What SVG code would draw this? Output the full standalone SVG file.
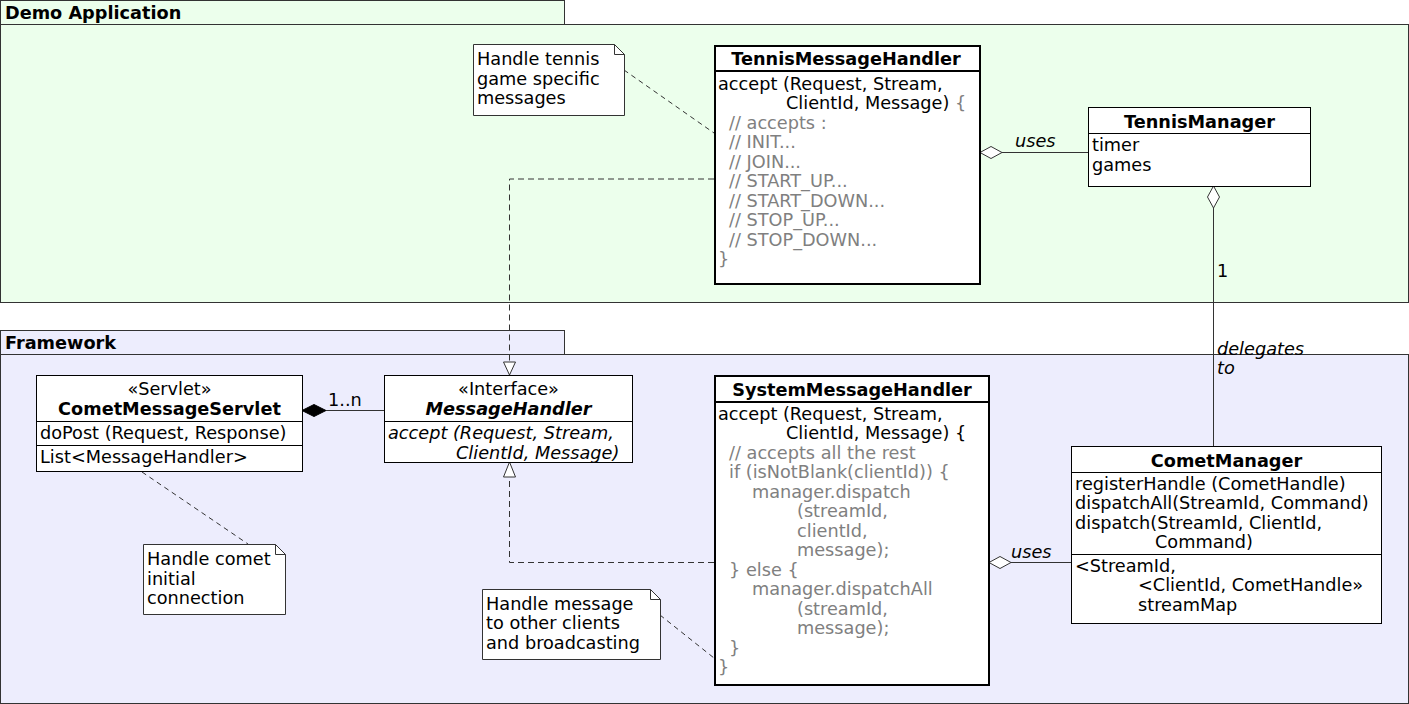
<svg xmlns="http://www.w3.org/2000/svg" width="1409" height="704" viewBox="0 0 1409 704">
<style>
text{font-family:"DejaVu Sans",sans-serif;font-size:17.7px;fill:#000}
.b{font-weight:bold}
.i{font-style:italic}
.g{fill:#808080}
.c{text-anchor:middle}
.box{fill:#fff;stroke:#000;stroke-width:1}
.thick{fill:#fff;stroke:#000;stroke-width:2}
.sep{stroke:#000;stroke-width:1}
.sep2{stroke:#000;stroke-width:2}
.pkgA{fill:#ecffec;stroke:#333;stroke-width:1}
.pkgB{fill:#ededfd;stroke:#333;stroke-width:1}
.note{fill:#fff;stroke:#333;stroke-width:1}
.ln{fill:none;stroke:#333;stroke-width:1}
.dash{fill:none;stroke:#333;stroke-width:1;stroke-dasharray:6,4}
.ndash{fill:none;stroke:#333;stroke-width:1;stroke-dasharray:5,4}
</style>
<g id="pkg-demo">
<rect class="pkgA" x="0.5" y="0.5" width="564" height="24"/>
<rect class="pkgA" x="0.5" y="24.5" width="1408" height="278"/>
<text class="b" x="5" y="19">Demo Application</text>
</g>
<g id="pkg-framework">
<rect class="pkgB" x="0.5" y="330.5" width="564" height="24"/>
<rect class="pkgB" x="0.5" y="354.5" width="1408" height="349"/>
<text class="b" x="5" y="349">Framework</text>
</g>
<g id="connectors">
<path class="ndash" d="M624,70 L714,133"/>
<path class="dash" d="M714,179 H509.5 V362"/>
<polygon points="509.5,375 503.5,362 515.5,362" fill="#fff" stroke="#333"/>
<line class="ln" x1="1002" y1="152.5" x2="1088" y2="152.5"/>
<polygon points="980,152.5 991,146.5 1002,152.5 991,158.5" fill="#fff" stroke="#333"/>
<text class="i" x="1015" y="147">uses</text>
<line class="ln" x1="1213.5" y1="208" x2="1213.5" y2="446"/>
<polygon points="1213.5,186 1219.5,197 1213.5,208 1207.5,197" fill="#fff" stroke="#333"/>
<text x="1217" y="277">1</text>
<text class="i" x="1217" y="355">delegates</text>
<text class="i" x="1217" y="374">to</text>
<line class="ln" x1="326" y1="410.5" x2="384" y2="410.5"/>
<polygon points="302,410.5 314,404.5 326,410.5 314,416.5" fill="#000" stroke="#000"/>
<text x="328" y="406">1..n</text>
<path class="dash" d="M714,562.5 H509.5 V477"/>
<polygon points="509.5,462 503.5,477 515.5,477" fill="#fff" stroke="#333"/>
<path class="ndash" d="M142,472 L248,544"/>
<line class="ln" x1="1011" y1="562.5" x2="1071" y2="562.5"/>
<polygon points="989,562.5 1000,556.5 1011,562.5 1000,568.5" fill="#fff" stroke="#333"/>
<text class="i" x="1011" y="558">uses</text>
<path class="ndash" d="M660,615 L714,658"/>
</g>
<g id="note-tennis">
<path class="note" d="M473.5,44.5 H614.5 L624.5,54.5 V115.5 H473.5 Z"/>
<path class="ln" d="M614.5,44.5 V54.5 H624.5"/>
<text x="477" y="65">Handle tennis</text>
<text x="477" y="85">game specific</text>
<text x="477" y="104">messages</text>
</g>
<g id="TennisMessageHandler">
<rect class="thick" x="715" y="46" width="265" height="238"/>
<line class="sep2" x1="715" y1="71" x2="980" y2="71"/>
<text class="b c" x="846" y="65">TennisMessageHandler</text>
<text x="718" y="90">accept (Request, Stream,</text>
<text x="786" y="109">ClientId, Message) <tspan class="g">{</tspan></text>
<text class="g" x="729" y="129">// accepts :</text>
<text class="g" x="729" y="148">// INIT...</text>
<text class="g" x="729" y="168">// JOIN...</text>
<text class="g" x="729" y="187">// START_UP...</text>
<text class="g" x="729" y="207">// START_DOWN...</text>
<text class="g" x="729" y="226">// STOP_UP...</text>
<text class="g" x="729" y="246">// STOP_DOWN...</text>
<text class="g" x="718" y="265">}</text>
</g>
<g id="TennisManager">
<rect class="box" x="1088.5" y="107.5" width="222" height="79"/>
<line class="sep" x1="1088.5" y1="133.5" x2="1310.5" y2="133.5"/>
<text class="b c" x="1199.5" y="128">TennisManager</text>
<text x="1092" y="151">timer</text>
<text x="1092" y="171">games</text>
</g>
<g id="CometMessageServlet">
<rect class="box" x="36.5" y="375.5" width="266" height="96"/>
<line class="sep" x1="36.5" y1="421.5" x2="302.5" y2="421.5"/>
<line class="sep" x1="36.5" y1="445.5" x2="302.5" y2="445.5"/>
<text class="c" x="169.5" y="395">«Servlet»</text>
<text class="b c" x="169.5" y="415">CometMessageServlet</text>
<text x="40" y="439">doPost (Request, Response)</text>
<text x="40" y="463">List&lt;MessageHandler&gt;</text>
</g>
<g id="MessageHandler">
<rect class="box" x="384.5" y="375.5" width="248" height="87"/>
<line class="sep" x1="384.5" y1="421.5" x2="632.5" y2="421.5"/>
<text class="c" x="508.5" y="395">«Interface»</text>
<text class="b i c" x="508.5" y="415">MessageHandler</text>
<text class="i" x="388" y="439">accept (Request, Stream,</text>
<text class="i" x="456" y="459">ClientId, Message)</text>
</g>
<g id="note-comet">
<path class="note" d="M143.5,544.5 H275.5 L285.5,554.5 V614.5 H143.5 Z"/>
<path class="ln" d="M275.5,544.5 V554.5 H285.5"/>
<text x="147" y="565">Handle comet</text>
<text x="147" y="585">initial</text>
<text x="147" y="604">connection</text>
</g>
<g id="SystemMessageHandler">
<rect class="thick" x="715" y="376" width="274" height="309"/>
<line class="sep2" x1="715" y1="402" x2="989" y2="402"/>
<text class="b c" x="852" y="396">SystemMessageHandler</text>
<text x="718" y="420">accept (Request, Stream,</text>
<text x="786" y="439">ClientId, Message) {</text>
<text class="g" x="729" y="459">// accepts all the rest</text>
<text class="g" x="729" y="478">if (isNotBlank(clientId)) {</text>
<text class="g" x="752" y="498">manager.dispatch</text>
<text class="g" x="797" y="517">(streamId,</text>
<text class="g" x="797" y="537">clientId,</text>
<text class="g" x="797" y="556">message);</text>
<text class="g" x="729" y="576">} else {</text>
<text class="g" x="752" y="595">manager.dispatchAll</text>
<text class="g" x="797" y="615">(streamId,</text>
<text class="g" x="797" y="634">message);</text>
<text class="g" x="729" y="654">}</text>
<text class="g" x="718" y="673">}</text>
</g>
<g id="note-message">
<path class="note" d="M482.5,589.5 H650.5 L660.5,599.5 V659.5 H482.5 Z"/>
<path class="ln" d="M650.5,589.5 V599.5 H660.5"/>
<text x="486" y="610">Handle message</text>
<text x="486" y="629">to other clients</text>
<text x="486" y="649">and broadcasting</text>
</g>
<g id="CometManager">
<rect class="box" x="1071.5" y="446.5" width="310" height="177"/>
<line class="sep" x1="1071.5" y1="472.5" x2="1381.5" y2="472.5"/>
<line class="sep" x1="1071.5" y1="554.5" x2="1381.5" y2="554.5"/>
<text class="b c" x="1226.5" y="467">CometManager</text>
<text x="1075" y="490">registerHandle (CometHandle)</text>
<text x="1075" y="509">dispatchAll(StreamId, Command)</text>
<text x="1075" y="529">dispatch(StreamId, ClientId,</text>
<text x="1155" y="548">Command)</text>
<text x="1075" y="572">&lt;StreamId,</text>
<text x="1138" y="591">&lt;ClientId, CometHandle»</text>
<text x="1138" y="611">streamMap</text>
</g>
</svg>
